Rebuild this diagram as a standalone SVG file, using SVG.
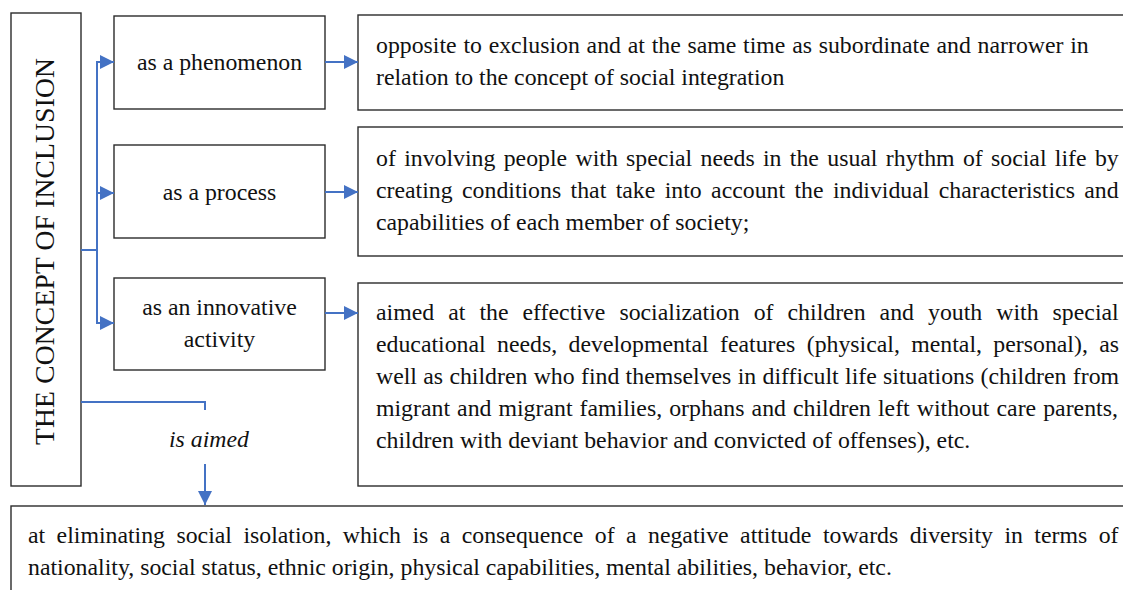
<svg xmlns="http://www.w3.org/2000/svg" width="1123" height="590" viewBox="0 0 1123 590">
<style>
.box{fill:#fff;stroke:#2b2b2b;stroke-width:1.4}
.t{font-family:"Liberation Serif","Times New Roman",serif;font-size:23.8px;fill:#111}
.c{text-anchor:middle}
.conn{fill:none;stroke:#4472C4;stroke-width:2}
</style>
<defs>
<marker id="ah" markerUnits="userSpaceOnUse" markerWidth="14" markerHeight="14" refX="14" refY="7" orient="auto">
<path d="M0,0 L14,7 L0,14 z" fill="#4472C4"/>
</marker>
</defs>
<rect width="1123" height="590" fill="#fff"/>
<g id="concept">
<rect class="box" x="11" y="13" width="70" height="473"/>
<text class="t" transform="translate(54,251.5) rotate(-90)" text-anchor="middle" style="font-size:27.5px" textLength="387" lengthAdjust="spacing">THE CONCEPT OF INCLUSION</text>
</g>
<g id="phenomenon">
<rect class="box" x="114" y="16" width="211" height="93"/>
<text class="t c" x="219.5" y="70">as a phenomenon</text>
</g>
<g id="process">
<rect class="box" x="114" y="145" width="211" height="93"/>
<text class="t c" x="219.5" y="200">as a process</text>
</g>
<g id="innovative">
<rect class="box" x="114" y="278" width="211" height="92"/>
<text class="t c" x="219.5" y="315">as an innovative</text>
<text class="t c" x="219.5" y="347">activity</text>
</g>
<g id="desc-phenomenon">
<rect class="box" x="358" y="15" width="800" height="95"/>
<text class="t" x="376" y="53" word-spacing="0.8">opposite to exclusion and at the same time as subordinate and narrower in</text>
<text class="t" x="376" y="85">relation to the concept of social integration</text>
</g>
<g id="desc-process">
<rect class="box" x="358" y="127" width="800" height="129"/>
<text class="t" x="376" y="166" word-spacing="2.38">of involving people with special needs in the usual rhythm of social life by</text>
<text class="t" x="376" y="198" word-spacing="3.44">creating conditions that take into account the individual characteristics and</text>
<text class="t" x="376" y="230">capabilities of each member of society;</text>
</g>
<g id="desc-activity">
<rect class="box" x="358" y="283" width="800" height="203"/>
<text class="t" x="376" y="320" word-spacing="8.1">aimed at the effective socialization of children and youth with special</text>
<text class="t" x="376" y="352" word-spacing="5.43">educational needs, developmental features (physical, mental, personal), as</text>
<text class="t" x="376" y="384" word-spacing="0.36">well as children who find themselves in difficult life situations (children from</text>
<text class="t" x="376" y="416" word-spacing="1.1">migrant and migrant families, orphans and children left without care parents,</text>
<text class="t" x="376" y="448">children with deviant behavior and convicted of offenses), etc.</text>
</g>
<g id="aim">
<rect class="box" x="11" y="506" width="1150" height="120"/>
<text class="t" x="28" y="543" word-spacing="5.5">at eliminating social isolation, which is a consequence of a negative attitude towards diversity in terms of</text>
<text class="t" x="28" y="575">nationality, social status, ethnic origin, physical capabilities, mental abilities, behavior, etc.</text>
</g>
<g id="connectors">
<polyline class="conn" points="81,250 97,250 97,62 114,62" marker-end="url(#ah)"/>
<polyline class="conn" points="97,193 114,193" marker-end="url(#ah)"/>
<polyline class="conn" points="97,250 97,323 114,323" marker-end="url(#ah)"/>
<line class="conn" x1="325" y1="62" x2="358" y2="62" marker-end="url(#ah)"/>
<line class="conn" x1="325" y1="192" x2="358" y2="192" marker-end="url(#ah)"/>
<line class="conn" x1="325" y1="313" x2="358" y2="313" marker-end="url(#ah)"/>
<polyline class="conn" points="81,402 205,402 205,410"/>
<line class="conn" x1="205" y1="464" x2="205" y2="505" marker-end="url(#ah)"/>
<text class="t c" x="209" y="447" style="font-style:italic">is aimed</text>
</g>
</svg>
